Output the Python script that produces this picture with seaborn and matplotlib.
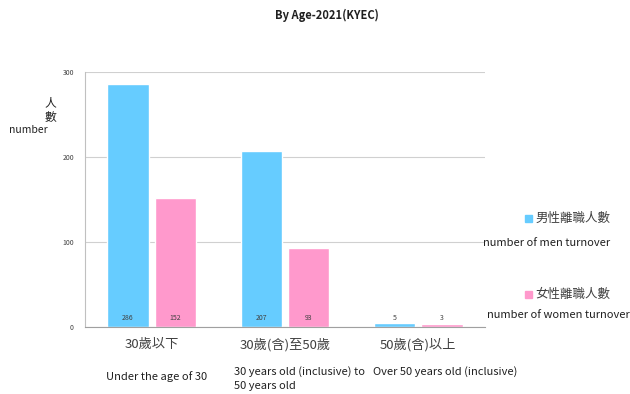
import matplotlib
matplotlib.use("Agg")
import matplotlib.pyplot as plt
import seaborn as sns
import pandas as pd

categories = ["30歲以下", "30歲(含)至50歲", "50歲(含)以上"]
categories_en = ["Under the age of 30", "30 years old (inclusive) to\n50 years old",
                 "Over 50 years old (inclusive)"]
series = ["男性離職人數", "女性離職人數"]
series_en = ["number of men turnover", "number of women turnover"]
men = [286, 207, 5]
women = [152, 93, 3]
colors = ["#66CCFF", "#FF99CC"]

df = pd.DataFrame({
    "cat": categories * 2,
    "series": [series[0]] * 3 + [series[1]] * 3,
    "value": men + women,
})

sns.set_style("white")
plt.rcParams["font.family"] = ["Noto Sans CJK TC", "DejaVu Sans"]

fig = plt.figure(figsize=(6.3, 3.94), dpi=100)
ax = fig.add_axes([85 / 630, 1 - 327 / 394, 400 / 630, 255 / 394])

sns.barplot(data=df, x="cat", y="value", hue="series", palette=colors,
            saturation=1, width=0.71, gap=0.13, legend=False, ax=ax)

ax.set_ylim(0, 300)
ax.set_xlim(-0.5, 2.5)
ax.set_yticks([0, 100, 200, 300])
ax.set_yticklabels(["0", "100", "200", "300"], fontsize=5, color="#404040")
ax.grid(axis="y", color="#d0d0d0", lw=0.8)
ax.set_axisbelow(True)
ax.tick_params(axis="y", length=0, pad=8)
for s in ["top", "right"]:
    ax.spines[s].set_visible(False)
ax.spines["left"].set_color("#c0c0c0")
ax.spines["bottom"].set_color("#a0a0a0")

# category boundary ticks
ax.set_xticks([-0.5, 0.5, 1.5, 2.5])
ax.set_xticklabels([])
ax.tick_params(axis="x", length=6, color="#a0a0a0", width=0.8)
ax.set_xlabel("")
ax.set_ylabel("")

# bar value labels near the bottom
vals = men + women
for p, v in zip(ax.patches, vals):
    ax.text(p.get_x() + p.get_width() / 2, 10, str(v), ha="center", va="center",
            fontsize=5, color="#404040")

# category labels (Chinese centred, English in left-aligned boxes)
en_offset = [None, -0.38, -0.34]
for i, (c, e) in enumerate(zip(categories, categories_en)):
    ax.text(i, -0.07, c, transform=ax.get_xaxis_transform(), ha="center", va="center",
            fontsize=9.5, color="#404040")
    if en_offset[i] is None:
        ax.text(i + 0.04, -0.196, e, transform=ax.get_xaxis_transform(), ha="center",
                va="center", fontsize=8, color="#202020")
    else:
        ax.text(i + en_offset[i], -0.153, e, transform=ax.get_xaxis_transform(),
                ha="left", va="top", fontsize=8, color="#202020", linespacing=1.45)

# y label
fig.text(50 / 630, 1 - 110 / 394, "人\n數", ha="center", va="center", fontsize=8.5,
         color="#202020", linespacing=1.1)
fig.text(28 / 630, 1 - 130 / 394, "number", ha="center", va="center", fontsize=7.5,
         color="#202020")

# title
fig.text(327 / 630, 1 - 15 / 394, "By Age-2021(KYEC)", ha="center", va="center",
         fontsize=8, fontweight="bold", color="#202020")

# legend
leg_y = [218, 294]
sub_y = [243, 315]
sub_x = [483, 487]
for name, en, col, y1, y2, x2 in zip(series, series_en, colors, leg_y, sub_y, sub_x):
    fig.patches.append(plt.Rectangle((525 / 630, 1 - (y1 + 4) / 394), 7 / 630, 7 / 394,
                                     transform=fig.transFigure, color=col))
    fig.text(535 / 630, 1 - y1 / 394, name, ha="left", va="center", fontsize=9,
             color="#404040")
    fig.text(x2 / 630, 1 - y2 / 394, en, ha="left", va="center", fontsize=8,
             color="#202020")

fig.savefig("out.png", dpi=100)
